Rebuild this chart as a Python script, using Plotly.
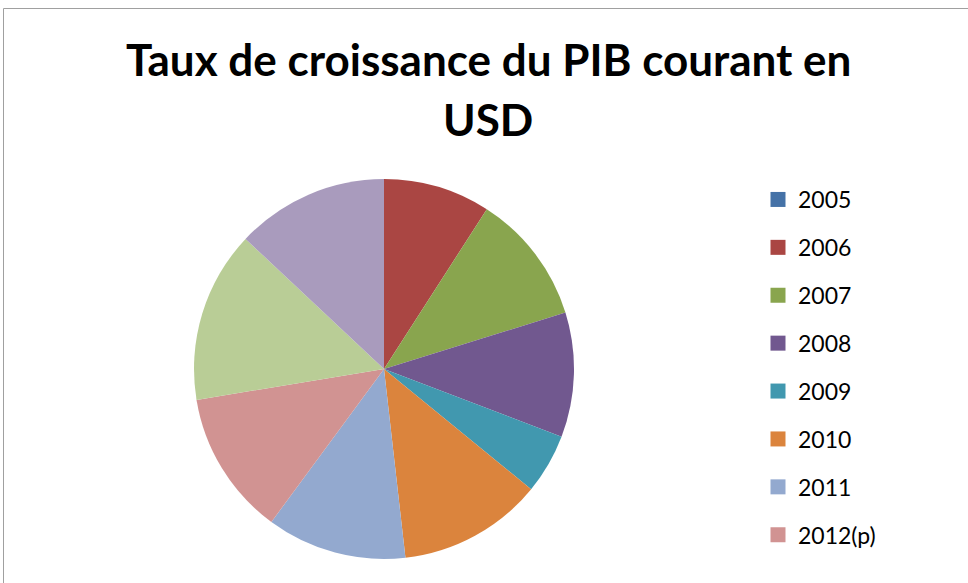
import plotly.graph_objects as go

years = ["2005", "2006", "2007", "2008", "2009", "2010", "2011", "2012(p)", "2013(p)", "2014(p)"]
growth = [0.0, 9.1, 11.1, 10.6, 5.1, 12.3, 11.9, 12.3, 14.6, 13.0]
colors = ["#4572A7", "#AA4643", "#89A54E", "#71588F", "#4198AF",
          "#DB843D", "#93A9CF", "#D19392", "#B9CD96", "#A99BBD"]
legend_years = years[:8]  # the reference's legend shows these entries
title_lines = ["Taux de croissance du PIB courant en", "USD"]

W, H = 968, 583
cx, cy, r = 384, 369, 190
FONT = "Lato, Open Sans, sans-serif"

fig = go.Figure()
fig.add_trace(go.Pie(
    labels=years, values=growth, sort=False, direction="clockwise", rotation=0,
    marker=dict(colors=colors, line=dict(width=0)),
    textinfo="none", hoverinfo="label+value", showlegend=False,
    domain=dict(x=[(cx - r) / W, (cx + r) / W], y=[(H - cy - r) / H, (H - cy + r) / H]),
))
for yr, c in zip(years, colors):
    fig.add_trace(go.Scatter(
        x=[None], y=[None], mode="markers", name=yr, legendgroup=yr,
        marker=dict(symbol="square", size=15, color=c), showlegend=yr in legend_years,
    ))

fig.update_layout(
    width=W, height=H, margin=dict(l=0, r=0, t=0, b=0),
    paper_bgcolor="white", plot_bgcolor="white",
    xaxis=dict(visible=False), yaxis=dict(visible=False),
    legend=dict(x=758 / W, y=(H - 178) / H, xanchor="left", yanchor="top",
                font=dict(family=FONT, size=23, color="black"),
                tracegroupgap=15, traceorder="grouped", itemwidth=30,
                bgcolor="rgba(0,0,0,0)"),
    shapes=[
        dict(type="line", xref="paper", yref="paper", x0=3.5 / W, x1=3.5 / W,
             y0=-0.1, y1=(H - 8.5) / H, line=dict(color="#a0a0a0", width=1)),
        dict(type="line", xref="paper", yref="paper", x0=3.5 / W, x1=1.1,
             y0=(H - 8.5) / H, y1=(H - 8.5) / H, line=dict(color="#a0a0a0", width=1)),
    ],
    annotations=[
        dict(text="<b>%s</b>" % title_lines[0], x=488 / W, y=(H - 59) / H, xref="paper", yref="paper",
             xanchor="center", yanchor="middle", showarrow=False,
             font=dict(family=FONT, size=44, color="black")),
        dict(text="<b>%s</b>" % title_lines[1], x=488 / W, y=(H - 119) / H, xref="paper", yref="paper",
             xanchor="center", yanchor="middle", showarrow=False,
             font=dict(family=FONT, size=44, color="black")),
    ],
)
fig.write_html("out.html", config={"displayModeBar": False},
               post_script="document.body.style.margin='0';document.body.style.overflow='hidden';")
